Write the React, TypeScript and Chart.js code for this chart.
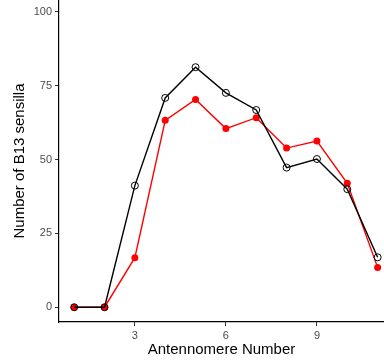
import React, { useEffect, useRef } from "react";
import { Chart, registerables } from "chart.js";

Chart.register(...registerables);

const antennomere = [1, 2, 3, 4, 5, 6, 7, 8, 9, 10, 11];
const blackSeries = [0, 0, 41.2, 70.9, 81.3, 72.6, 66.8, 47.3, 50.2, 40.0, 16.9];
const redSeries = [0, 0, 16.8, 63.3, 70.4, 60.5, 64.2, 53.9, 56.3, 42.0, 13.5];
const xTicks = [3, 6, 9];
const yTicks = [0, 25, 50, 75, 100];

export default function App() {
  const ref = useRef<HTMLCanvasElement>(null);
  useEffect(() => {
    document.body.style.margin = "0";
    const ctx = ref.current!;
    const font = "'Liberation Sans', Arial, Helvetica, sans-serif";
    const chart = new Chart(ctx, {
      type: "line",
      data: {
        datasets: [
          {
            label: "black",
            data: antennomere.map((x, i) => ({ x, y: blackSeries[i] })),
            borderColor: "#000000",
            backgroundColor: "rgba(0,0,0,0)",
            borderWidth: 1.4,
            pointRadius: 3.5,
            pointBorderWidth: 1,
            pointBorderColor: "#000000",
            pointBackgroundColor: "rgba(0,0,0,0)",
            tension: 0,
            order: 0,
          },
          {
            label: "red",
            data: antennomere.map((x, i) => ({ x, y: redSeries[i] })),
            borderColor: "#ff0000",
            backgroundColor: "#ff0000",
            borderWidth: 1.4,
            pointRadius: 3.5,
            pointBorderWidth: 0,
            pointBackgroundColor: "#ff0000",
            tension: 0,
            order: 1,
          },
        ],
      },
      options: {
        animation: false,
        responsive: false,
        maintainAspectRatio: false,
        layout: { padding: 0, autoPadding: false },
        plugins: { legend: { display: false }, tooltip: { enabled: false } },
        scales: {
          x: {
            type: "linear",
            min: 0.5,
            max: 11.21,
            afterBuildTicks: (s: any) => {
              s.ticks = xTicks.map((v) => ({ value: v }));
            },
            afterFit: (s: any) => {
              s.height = 40;
              s.paddingLeft = 0;
              s.paddingRight = 0;
            },
            grid: { drawOnChartArea: false, drawTicks: true, tickLength: 4, color: "#333333", lineWidth: 1 },
            border: { display: true, color: "#000000", width: 1.2 },
            ticks: { color: "#4d4d4d", font: { family: font, size: 11 }, padding: 3, maxRotation: 0 },
            title: {
              display: true,
              text: "Antennomere Number",
              color: "#000000",
              font: { family: font, size: 15 },
              padding: { top: 0, bottom: 3 },
            },
          },
          y: {
            type: "linear",
            min: -5,
            max: 104.06,
            afterBuildTicks: (s: any) => {
              s.ticks = yTicks.map((v) => ({ value: v }));
            },
            afterFit: (s: any) => {
              s.width = 59;
              s.paddingTop = 0;
              s.paddingBottom = 0;
            },
            grid: { drawOnChartArea: false, drawTicks: true, tickLength: 4, color: "#333333", lineWidth: 1 },
            border: { display: true, color: "#000000", width: 1.2 },
            ticks: { color: "#4d4d4d", font: { family: font, size: 11 }, padding: 3 },
            title: {
              display: true,
              text: "Number of B13 sensilla",
              color: "#000000",
              font: { family: font, size: 15 },
              padding: { top: 11, bottom: 0 },
            },
          },
        },
      },
    });
    return () => chart.destroy();
  }, []);
  return (
    <div style={{ position: "absolute", left: 0, top: 0, width: 384, height: 362, background: "#fff" }}>
      <canvas ref={ref} width={384} height={362} style={{ width: 384, height: 362 }} />
    </div>
  );
}
